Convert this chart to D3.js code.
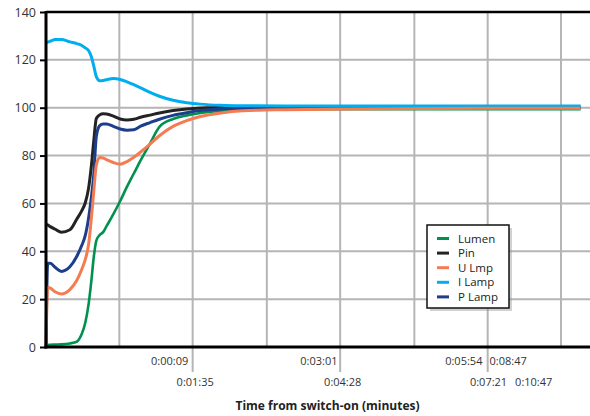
<!DOCTYPE html>
<meta charset="utf-8">
<script src="https://d3js.org/d3.v7.min.js"></script>
<style>body{margin:0;background:#fff;}</style>
<div id="chart"></div>
<script>

    // time in seconds from switch-on, values in % of final
    const times  = [9, 11, 14, 20, 27, 37, 45, 51, 55, 59, 62, 65, 68, 72, 76, 80, 88, 96, 104, 112, 120, 131, 142, 158, 174, 190, 214, 240, 290, 360, 450, 540, 636];
    const lumen  = [0.5, 0.8, 0.9, 1.0, 1.1, 1.5, 2.2, 5.5, 10, 18, 27, 37.5, 44.5, 46.8, 48, 50.5, 55.5, 61, 67, 72.5, 78, 85, 92, 95.3, 96.8, 97.8, 98.6, 99.0, 99.3, 99.4, 99.4, 99.4, 99.4];
    const pin    = [51.2, 51.0, 50.3, 49.2, 48.0, 49.0, 53.4, 57.0, 60.2, 66.5, 75, 86, 95.5, 97.0, 97.5, 97.4, 96.5, 95.3, 94.9, 95.2, 96.0, 96.9, 97.8, 98.8, 99.5, 99.9, 100.1, 100.2, 100.2, 100.2, 100.2, 100.2, 100.2];
    const uLmp   = [0, 25, 24.6, 23.0, 22.2, 24.0, 27.8, 32.5, 36.5, 43, 53, 65, 76, 79.2, 79.0, 78.3, 77.1, 76.4, 77.5, 79.3, 81.5, 84.8, 88.3, 92.2, 94.6, 96.3, 97.8, 98.7, 99.2, 99.5, 99.7, 99.8, 99.8];
    const iLamp  = [127.2, 127.4, 127.8, 128.5, 128.5, 127.5, 126.8, 126.0, 125.0, 123.8, 121.5, 117.5, 113, 111.3, 111.4, 111.7, 112.2, 111.8, 110.8, 109.6, 108.3, 106.4, 104.8, 103.1, 102.1, 101.5, 101.0, 100.8, 100.7, 100.7, 100.7, 100.7, 100.7];
    const pLamp  = [0, 35, 35.0, 33.2, 31.6, 33.5, 37.8, 42.5, 46.5, 54, 62, 72, 88, 92.5, 93.2, 93.2, 92.2, 91.1, 90.6, 90.8, 92.3, 93.8, 95.2, 96.8, 97.9, 98.8, 99.5, 99.8, 100.0, 100.1, 100.1, 100.1, 100.1];

    const seriesNames = ["Lumen", "Pin", "U Lmp", "I Lamp", "P Lamp"];
    const seriesValues = [lumen, pin, uLmp, iLamp, pLamp];
    const colors = ["#00914f", "#232323", "#f47c52", "#00aeef", "#1c3e8b"];
    const drawOrder = [0, 1, 4, 3, 2];

    const yTicks = [0, 20, 40, 60, 80, 100, 120, 140];
    const gridTimes = [9, 95, 181, 268, 354, 441, 527, 613];
    const majorTimes = [181, 354, 527];
    const xLabelsTop = ["0:00:09", "0:03:01", "0:05:54", "0:08:47"];
    const xLabelsTopAt = [154, 329, 499, 551];
    const xLabelsBottom = ["0:01:35", "0:04:28", "0:07:21", "0:10:47"];
    const xLabelsBottomAt = [184, 357, 528, 581];

    const W = 590, H = 416;
    const svg = d3.select("#chart").append("svg")
        .attr("width", W).attr("height", H)
        .style("font-family", "'Open Sans', 'Noto Sans', sans-serif");

    const x = d3.scaleLinear().domain([9, 647]).range([46, 590]);
    const y = d3.scaleLinear().domain([0, 140]).range([347, 12]);

    // grid
    svg.append("g").selectAll("line.h").data(yTicks).join("line")
        .attr("x1", x(9)).attr("x2", x(647))
        .attr("y1", d => y(d)).attr("y2", d => y(d))
        .attr("stroke", "#b5b5b8").attr("stroke-width", 2);
    svg.append("g").selectAll("line.v").data(gridTimes).join("line")
        .attr("x1", d => x(d)).attr("x2", d => x(d))
        .attr("y1", y(140)).attr("y2", d => majorTimes.includes(d) ? 372 : y(0))
        .attr("stroke", "#b5b5b8").attr("stroke-width", 2);

    // series
    const line = d3.line()
        .x((d, i) => x(times[i]))
        .y(d => y(d))
        .curve(d3.curveMonotoneX);
    svg.append("g").selectAll("path").data(drawOrder).join("path")
        .attr("d", k => line(seriesValues[k]))
        .attr("fill", "none")
        .attr("stroke", k => colors[k])
        .attr("stroke-width", k => k === 0 ? 2.6 : 3)
        .attr("stroke-linejoin", "round");

    // y axis
    const yAxis = svg.append("g")
        .attr("transform", `translate(${x(9)},0)`)
        .call(d3.axisLeft(y).tickValues(yTicks).tickSize(6).tickPadding(4));
    yAxis.select(".domain").remove();
    yAxis.selectAll(".tick line").attr("stroke", "#000").attr("stroke-width", 2);
    yAxis.selectAll(".tick text").attr("font-size", 12.5).attr("fill", "#333")
        .attr("font-family", "'Open Sans', sans-serif");

    // frame lines
    svg.append("line").attr("x1", x(9)).attr("x2", x(9)).attr("y1", y(140) - 1).attr("y2", y(0) + 1.5)
        .attr("stroke", "#000").attr("stroke-width", 3);
    svg.append("line").attr("x1", x(9) - 1.5).attr("x2", W).attr("y1", y(0)).attr("y2", y(0))
        .attr("stroke", "#000").attr("stroke-width", 3);
    svg.append("line").attr("x1", x(9)).attr("x2", W).attr("y1", y(140)).attr("y2", y(140))
        .attr("stroke", "#000").attr("stroke-width", 2.5);

    // x labels
    svg.append("g").selectAll("text").data(xLabelsTop).join("text")
        .attr("x", (d, i) => x(xLabelsTopAt[i])).attr("y", 365)
        .attr("text-anchor", "middle").attr("font-size", 11).attr("fill", "#333")
        .text(d => d);
    svg.append("g").selectAll("text").data(xLabelsBottom).join("text")
        .attr("x", (d, i) => x(xLabelsBottomAt[i])).attr("y", 385.5)
        .attr("text-anchor", "middle").attr("font-size", 11).attr("fill", "#333")
        .text(d => d);
    svg.append("text")
        .attr("x", 327.5).attr("y", 409.5)
        .attr("text-anchor", "middle").attr("font-size", 12).attr("font-weight", "bold")
        .attr("fill", "#222")
        .text("Time from switch-on (minutes)");

    // legend
    const lg = svg.append("g").attr("transform", "translate(427,225)");
    lg.append("rect").attr("x", 3).attr("y", 3).attr("width", 82).attr("height", 83)
        .attr("fill", "#999").attr("opacity", 0.45);
    lg.append("rect").attr("width", 82).attr("height", 83)
        .attr("fill", "#fff").attr("stroke", "#111").attr("stroke-width", 1.5);
    const item = lg.selectAll("g.item").data(seriesNames).join("g")
        .attr("transform", (d, i) => `translate(0,${13.5 + i * 14.6})`);
    item.append("line").attr("x1", 10).attr("x2", 22)
        .attr("stroke", (d, i) => colors[i]).attr("stroke-width", 3);
    item.append("text").attr("x", 31).attr("y", 4)
        .attr("font-size", 11.5).attr("fill", "#222").text(d => d);
</script>
